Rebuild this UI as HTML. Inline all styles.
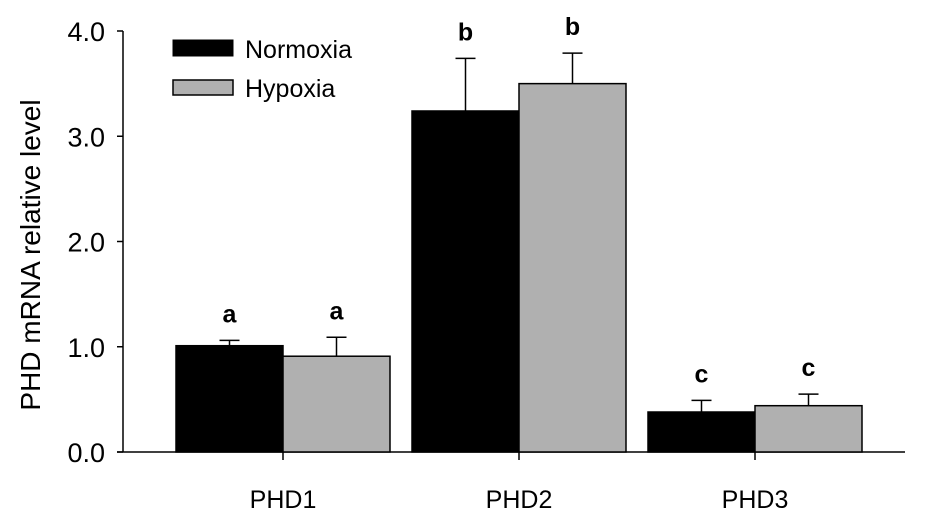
<!DOCTYPE html>
<html><head><meta charset="utf-8"><style>
html,body{margin:0;padding:0;background:#fff;}
svg text{font-family:"Liberation Sans",Arial,sans-serif;}
</style></head><body>
<svg id="chart" width="945" height="519" viewBox="0 0 945 519" xmlns="http://www.w3.org/2000/svg">
<g id="axes"></g>
<g id="bars"></g>
<text transform="translate(40,255) rotate(-90)" text-anchor="middle" font-size="28" fill="#000">PHD mRNA relative level</text>
<g>
  <rect x="173" y="40" width="60" height="16" fill="#000" stroke="#000"/>
  <text x="245" y="58" font-size="25">Normoxia</text>
  <rect x="173" y="80" width="60" height="15" fill="#b0b0b0" stroke="#000" stroke-width="1.5"/>
  <text x="245" y="97" font-size="25">Hypoxia</text>
</g>
</svg>
<script>
const categories = ["PHD1","PHD2","PHD3"];
const normoxia = [1.01, 3.24, 0.38];
const normoxiaErr = [0.05, 0.50, 0.11];
const hypoxia = [0.91, 3.50, 0.44];
const hypoxiaErr = [0.18, 0.29, 0.11];
const normoxiaLetters = ["a","b","c"];
const hypoxiaLetters = ["a","b","c"];
const yTicks = [0, 1, 2, 3, 4];
const yTickLabels = ["0.0","1.0","2.0","3.0","4.0"];

const NS = "http://www.w3.org/2000/svg";
const y0 = 452, yPer = 105.25, axisX = 123, axisEnd = 905;
const xCenter0 = 283, groupStep = 236, barW = 107;
function yScale(v){ return y0 - v*yPer; }
function xCenter(i){ return xCenter0 + i*groupStep; }
function mk(tag, attrs, parent){ const e=document.createElementNS(NS,tag); for(const k in attrs) e.setAttribute(k,attrs[k]); parent.appendChild(e); return e; }

const axes = document.getElementById('axes');
const yAxis = mk('line',{x1:axisX,y1:yScale(4),x2:axisX,y2:y0,stroke:'#000','stroke-width':1.5},axes);


const xAxis = mk('line',{x1:axisX-6,y1:y0,x2:axisEnd,y2:y0,stroke:'#000','stroke-width':1.5},axes);


yTicks.forEach((t,i)=>{
  const tk = mk('line',{x1:axisX-6,y1:yScale(t),x2:axisX,y2:yScale(t),stroke:'#000','stroke-width':1.5},axes);
  
  
  const lb = mk('text',{x:axisX-18,y:yScale(t)+10,'text-anchor':'end','font-size':27},axes);
  
  
  lb.textContent = yTickLabels[i];
});
categories.forEach((c,i)=>{
  const tk = mk('line',{x1:xCenter(i),y1:y0,x2:xCenter(i),y2:y0+8,stroke:'#000','stroke-width':1.5},axes);
  
  
  const lb = mk('text',{x:xCenter(i),y:508,'text-anchor':'middle','font-size':25},axes);
  
  
  lb.textContent = c;
});

const bars = document.getElementById('bars');
function drawBar(i, v, err, letter, isHyp){
  const x = isHyp ? xCenter(i) : xCenter(i)-barW;
  const cx = x + barW/2;
  const top = yScale(v), et = yScale(v+err);
  const el = mk('line',{x1:cx,y1:top,x2:cx,y2:et,stroke:'#000','stroke-width':1.5},bars);
  
  
  const cap = mk('line',{x1:cx-10,y1:et,x2:cx+10,y2:et,stroke:'#000','stroke-width':1.5},bars);
  
  
  const r = mk('rect',{x:x,y:top,width:barW,height:y0-top,fill:isHyp?'#b0b0b0':'#000',stroke:'#000','stroke-width':1.5},bars);
  
  
  const t = mk('text',{x:cx,y:et-18,'text-anchor':'middle','font-size':25,'font-weight':'bold'},bars);
  
  
  t.textContent = letter;
}
categories.forEach((c,i)=>{
  drawBar(i, normoxia[i], normoxiaErr[i], normoxiaLetters[i], false);
  drawBar(i, hypoxia[i], hypoxiaErr[i], hypoxiaLetters[i], true);
});
</script>
</body></html>
